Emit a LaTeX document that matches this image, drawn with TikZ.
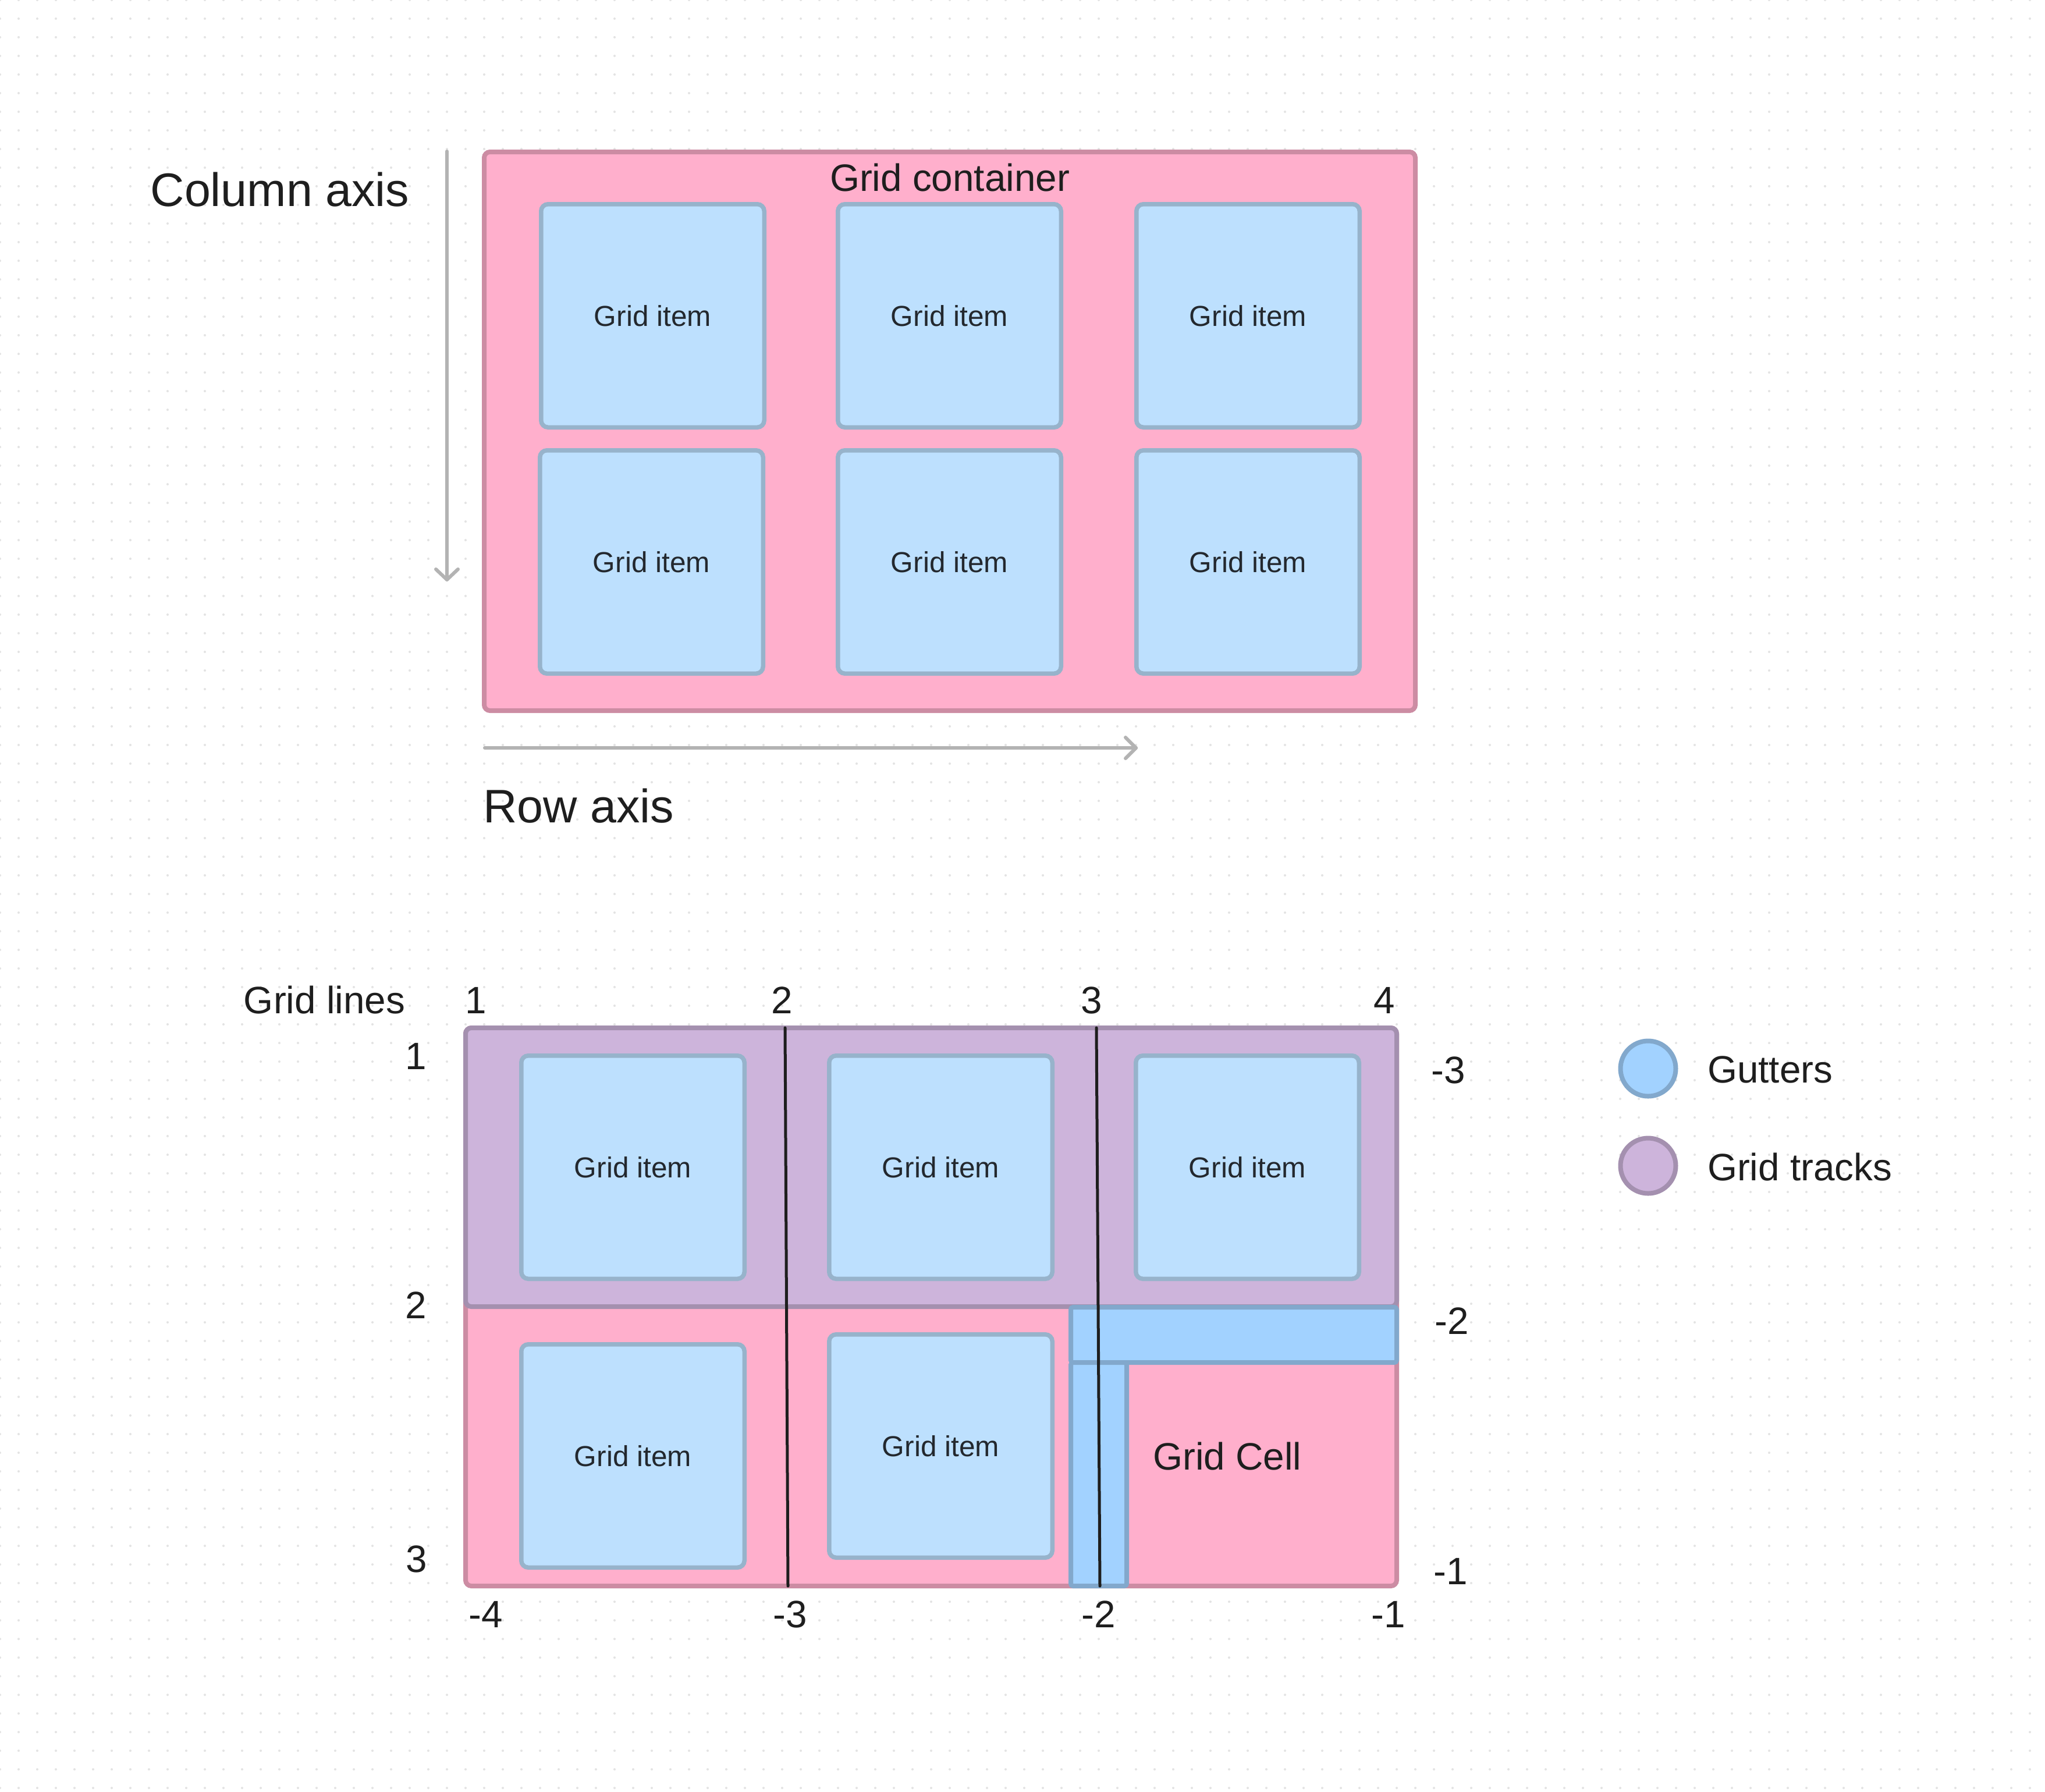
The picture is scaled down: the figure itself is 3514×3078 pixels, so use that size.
\documentclass[tikz,border=0pt]{standalone}
\usepackage{fontspec}
\setmainfont{Liberation Sans}
\definecolor{pinkfill}{HTML}{FFAFCC}
\definecolor{pinkline}{HTML}{CC8CA3}
\definecolor{itemfill}{HTML}{BDE0FE}
\definecolor{itemline}{HTML}{97B3CB}
\definecolor{trackfill}{HTML}{CDB4DB}
\definecolor{trackline}{HTML}{A490AF}
\definecolor{gutfill}{HTML}{A2D2FF}
\definecolor{gutline}{HTML}{82A8CC}
\definecolor{axisgray}{HTML}{B3B3B3}
\definecolor{dotgray}{HTML}{E3E3E3}
\definecolor{ink}{HTML}{1E1E1E}
\definecolor{itemink}{HTML}{23282E}
\begin{document}
\begin{tikzpicture}[x=0.25pt,y=-0.25pt,
  box/.style={draw, rectangle, inner sep=0pt, outer sep=0pt},
  containerbox/.style={box, fill=pinkfill, draw=pinkline, line width=2pt, rounded corners=2.5pt},
  griditem/.style={box, fill=itemfill, draw=itemline, line width=1.875pt, rounded corners=3pt,
    minimum width=95.875pt, minimum height=95.875pt, text=itemink,
    font=\fontsize{12.4pt}{15pt}\selectfont},
  trackbox/.style={box, fill=trackfill, draw=trackline, line width=2pt, rounded corners=2.5pt},
  gutterbox/.style={box, fill=gutfill, draw=gutline, line width=2pt, rounded corners=1pt},
  lbl/.style={text=ink, inner sep=0pt, outer sep=0pt, font=\fontsize{16.4pt}{20pt}\selectfont},
  biglbl/.style={text=ink, inner sep=0pt, outer sep=0pt, font=\fontsize{20.2pt}{24pt}\selectfont},
  axisline/.style={draw=axisgray, line width=1.5pt, line cap=round, line join=round},
  gridline/.style={draw=ink, line width=1.25pt, line cap=round},
  legenddot/.style={circle, inner sep=0pt, outer sep=0pt, minimum size=23.75pt, line width=2pt},
]
% background with dot grid
\fill[white] (0,0) rectangle (3514,3078);
\useasboundingbox (0,0) rectangle (3514,3078);
\foreach \r in {0,...,96}
  \draw[dotgray, line width=1pt, line cap=round, dash pattern=on 0pt off 8pt] (0,\r*32) -- (3514,\r*32);

% ---------- top: grid container ----------
\node[containerbox, minimum width=400pt, minimum height=240pt] (cont) at (1632,741) {};
\node[lbl] (contlbl) at (1632,305) {Grid container};
\node[griditem] (t11) at (1121.5,542.5) {Grid item};
\node[griditem] (t12) at (1631.5,542.5) {Grid item};
\node[griditem] (t13) at (2144.5,542.5) {Grid item};
\node[griditem] (t21) at (1119.5,965.5) {Grid item};
\node[griditem] (t22) at (1631.5,965.5) {Grid item};
\node[griditem] (t23) at (2144.5,965.5) {Grid item};

% column axis
\coordinate (cA) at (768,260);
\coordinate (cB) at (768,996);
\coordinate (cL) at (749,978);
\coordinate (cR) at (787,978);
\draw[axisline] (cA) -- (cB);
\draw[axisline] (cL) -- (cB) -- (cR);
\node[biglbl] (colaxis) at (481,326) {Column axis};

% row axis
\coordinate (rA) at (833,1285);
\coordinate (rB) at (1952,1285);
\coordinate (rU) at (1934,1267);
\coordinate (rD) at (1934,1303);
\draw[axisline] (rA) -- (rB);
\draw[axisline] (rU) -- (rB) -- (rD);
\node[biglbl] (rowaxis) at (994,1385) {Row axis};

% ---------- bottom: grid lines ----------
\node[containerbox, minimum width=400pt, minimum height=239.75pt] (bgrid) at (1600,2245.5) {};
\node[trackbox, minimum width=400pt, minimum height=119.75pt] (track) at (1600,2005.5) {};
\node[gutterbox, minimum width=140pt, minimum height=23.75pt] (hgut) at (2120,2293.5) {};
\node[gutterbox, minimum width=24pt, minimum height=96pt] (vgut) at (1888,2533) {};

\node[griditem] (b11) at (1087.5,2005.5) {Grid item};
\node[griditem] (b12) at (1616.5,2005.5) {Grid item};
\node[griditem] (b13) at (2143.5,2005.5) {Grid item};
\node[griditem] (b21) at (1087.5,2501.5) {Grid item};
\node[griditem] (b22) at (1616.5,2484.5) {Grid item};

\node[lbl] (cell) at (2109,2502.5) {Grid Cell};

\coordinate (l2t) at (1349,1766);
\coordinate (l2b) at (1354,2725);
\coordinate (l3t) at (1884,1766);
\coordinate (l3b) at (1890,2725);
\draw[gridline] (l2t) -- (l2b);
\draw[gridline] (l3t) -- (l3b);

\node[lbl] (gl) at (557.5,1718.5) {Grid lines};
\node[lbl] (ct1) at (817.6,1718.5) {1};
\node[lbl] (ct2) at (1344,1718.5) {2};
\node[lbl] (ct3) at (1876,1718.5) {3};
\node[lbl] (ct4) at (2379,1718.5) {4};
\node[lbl] (rl1) at (714.6,1815) {1};
\node[lbl] (rl2) at (715,2243) {2};
\node[lbl] (rl3) at (715.5,2678.5) {3};
\node[lbl] (rr3) at (2489,1838.5) {-3};
\node[lbl] (rr2) at (2495,2270) {-2};
\node[lbl] (rr1) at (2493,2700) {-1};
\node[lbl] (cb4) at (835,2774) {-4};
\node[lbl] (cb3) at (1358,2774) {-3};
\node[lbl] (cb2) at (1888,2774) {-2};
\node[lbl] (cb1) at (2386,2774) {-1};

% legend
\node[legenddot, fill=gutfill, draw=gutline] (lg1) at (2832,1836) {};
\node[lbl, anchor=west] (lg1t) at (2934,1838) {Gutters};
\node[legenddot, fill=trackfill, draw=trackline] (lg2) at (2832,2003) {};
\node[lbl, anchor=west] (lg2t) at (2934,2005) {Grid tracks};
\end{tikzpicture}
\end{document}
